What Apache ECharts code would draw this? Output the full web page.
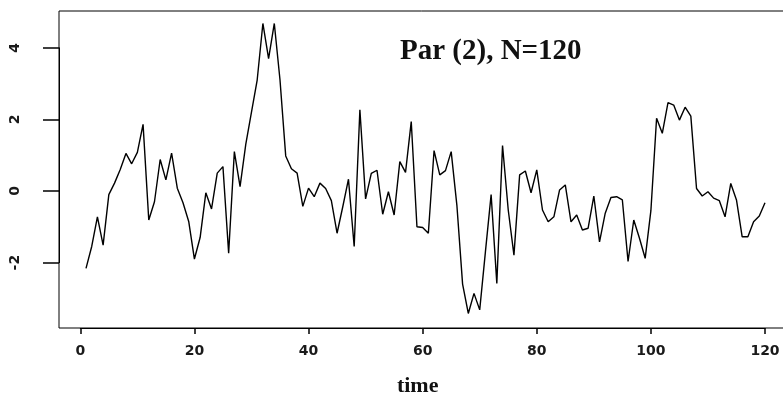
<!DOCTYPE html>
<html>
<head>
<meta charset="utf-8">
<title>Par (2), N=120</title>
<script src="https://cdn.jsdelivr.net/npm/echarts@6.0.0/dist/echarts.min.js"></script>
<style>
  html, body { margin: 0; padding: 0; background: #fff; }
  #main { width: 783px; height: 395px; }
</style>
</head>
<body>
<div id="main"></div>
<script>
// series values, t = 1..120
var values = [
  -2.16, -1.55, -0.72, -1.51, -0.10, 0.22, 0.60, 1.05, 0.76, 1.08,
  1.86, -0.81, -0.30, 0.88, 0.31, 1.06, 0.08, -0.33, -0.85, -1.90,
  -1.30, -0.05, -0.50, 0.50, 0.68, -1.74, 1.10, 0.12, 1.30, 2.20,
  3.10, 4.68, 3.70, 4.68, 3.10, 0.98, 0.62, 0.50, -0.43, 0.08,
  -0.16, 0.22, 0.07, -0.27, -1.18, -0.44, 0.33, -1.55, 2.27, -0.22,
  0.49, 0.58, -0.65, -0.02, -0.67, 0.82, 0.52, 1.94, -1.00, -1.02,
  -1.18, 1.13, 0.45, 0.57, 1.10, -0.40, -2.60, -3.42, -2.86, -3.32,
  -1.70, -0.10, -2.58, 1.27, -0.53, -1.79, 0.45, 0.56, -0.05, 0.59,
  -0.53, -0.86, -0.72, 0.03, 0.17, -0.86, -0.67, -1.09, -1.04, -0.14,
  -1.42, -0.62, -0.18, -0.16, -0.25, -1.97, -0.81, -1.32, -1.88, -0.55,
  2.03, 1.61, 2.47, 2.40, 1.98, 2.34, 2.09, 0.07, -0.14, -0.02,
  -0.20, -0.27, -0.72, 0.21, -0.25, -1.28, -1.28, -0.86, -0.70, -0.33
];
// tick range of the axes
var xMin = 0, xMax = 120, xStep = 20;
var yMin = -2, yMax = 4, yStep = 2;

var points = values.map(function (v, i) { return [i + 1, v]; });

var myChart = echarts.init(document.getElementById('main'));

var labelFont = {
    fontFamily: 'DejaVu Sans',
    fontSize: 14,
    fontWeight: 'bold',
    color: '#1a1a1a'
};

var option = {
    animation: false,
    backgroundColor: '#fff',
    title: {
        text: 'Par (2), N=120',
        left: 400,
        top: 37,
        padding: 0,
        textStyle: {
            fontFamily: 'Liberation Serif',
            fontWeight: 'bold',
            fontSize: 29,
            color: '#111'
        }
    },
    grid: [
        // inner area spanning the tick range (0..120, -2..4)
        { left: 80.3, top: 47.8, width: 684.7, height: 214.8, outerBoundsMode: 'none' },
        // R style plot box
        { left: 59, top: 11, width: 732, height: 317, show: true,
          borderColor: '#000', borderWidth: 1, outerBoundsMode: 'none' }
    ],
    xAxis: [{
        gridIndex: 0,
        type: 'value',
        min: xMin,
        max: xMax,
        interval: xStep,
        offset: 65.4,
        name: 'time',
        nameLocation: 'middle',
        nameGap: 47,
        nameTextStyle: {
            fontFamily: 'Liberation Serif',
            fontWeight: 'bold',
            fontSize: 22,
            color: '#111',
            padding: [0, 10, 0, 0]
        },
        axisLine: { show: true, onZero: false, lineStyle: { color: '#000', width: 1 } },
        axisTick: { show: true, inside: false, length: 6, lineStyle: { color: '#000', width: 1.5 } },
        axisLabel: Object.assign({ margin: 16 }, labelFont),
        splitLine: { show: false }
    }, {
        gridIndex: 1, type: 'value', show: false
    }],
    yAxis: [{
        gridIndex: 0,
        type: 'value',
        min: yMin,
        max: yMax,
        interval: yStep,
        offset: 21.3,
        axisLine: { show: true, onZero: false, lineStyle: { color: '#000', width: 1 } },
        axisTick: { show: true, inside: false, length: 16, lineStyle: { color: '#000', width: 1.5 } },
        axisLabel: Object.assign({ margin: 37, rotate: 90 }, labelFont),
        splitLine: { show: false }
    }, {
        gridIndex: 1, type: 'value', show: false
    }],
    series: [{
        type: 'line',
        xAxisIndex: 0,
        yAxisIndex: 0,
        data: points,
        clip: false,
        showSymbol: false,
        lineStyle: { color: '#000', width: 1.4 }
    }]
};
myChart.setOption(option);
</script>
</body>
</html>
